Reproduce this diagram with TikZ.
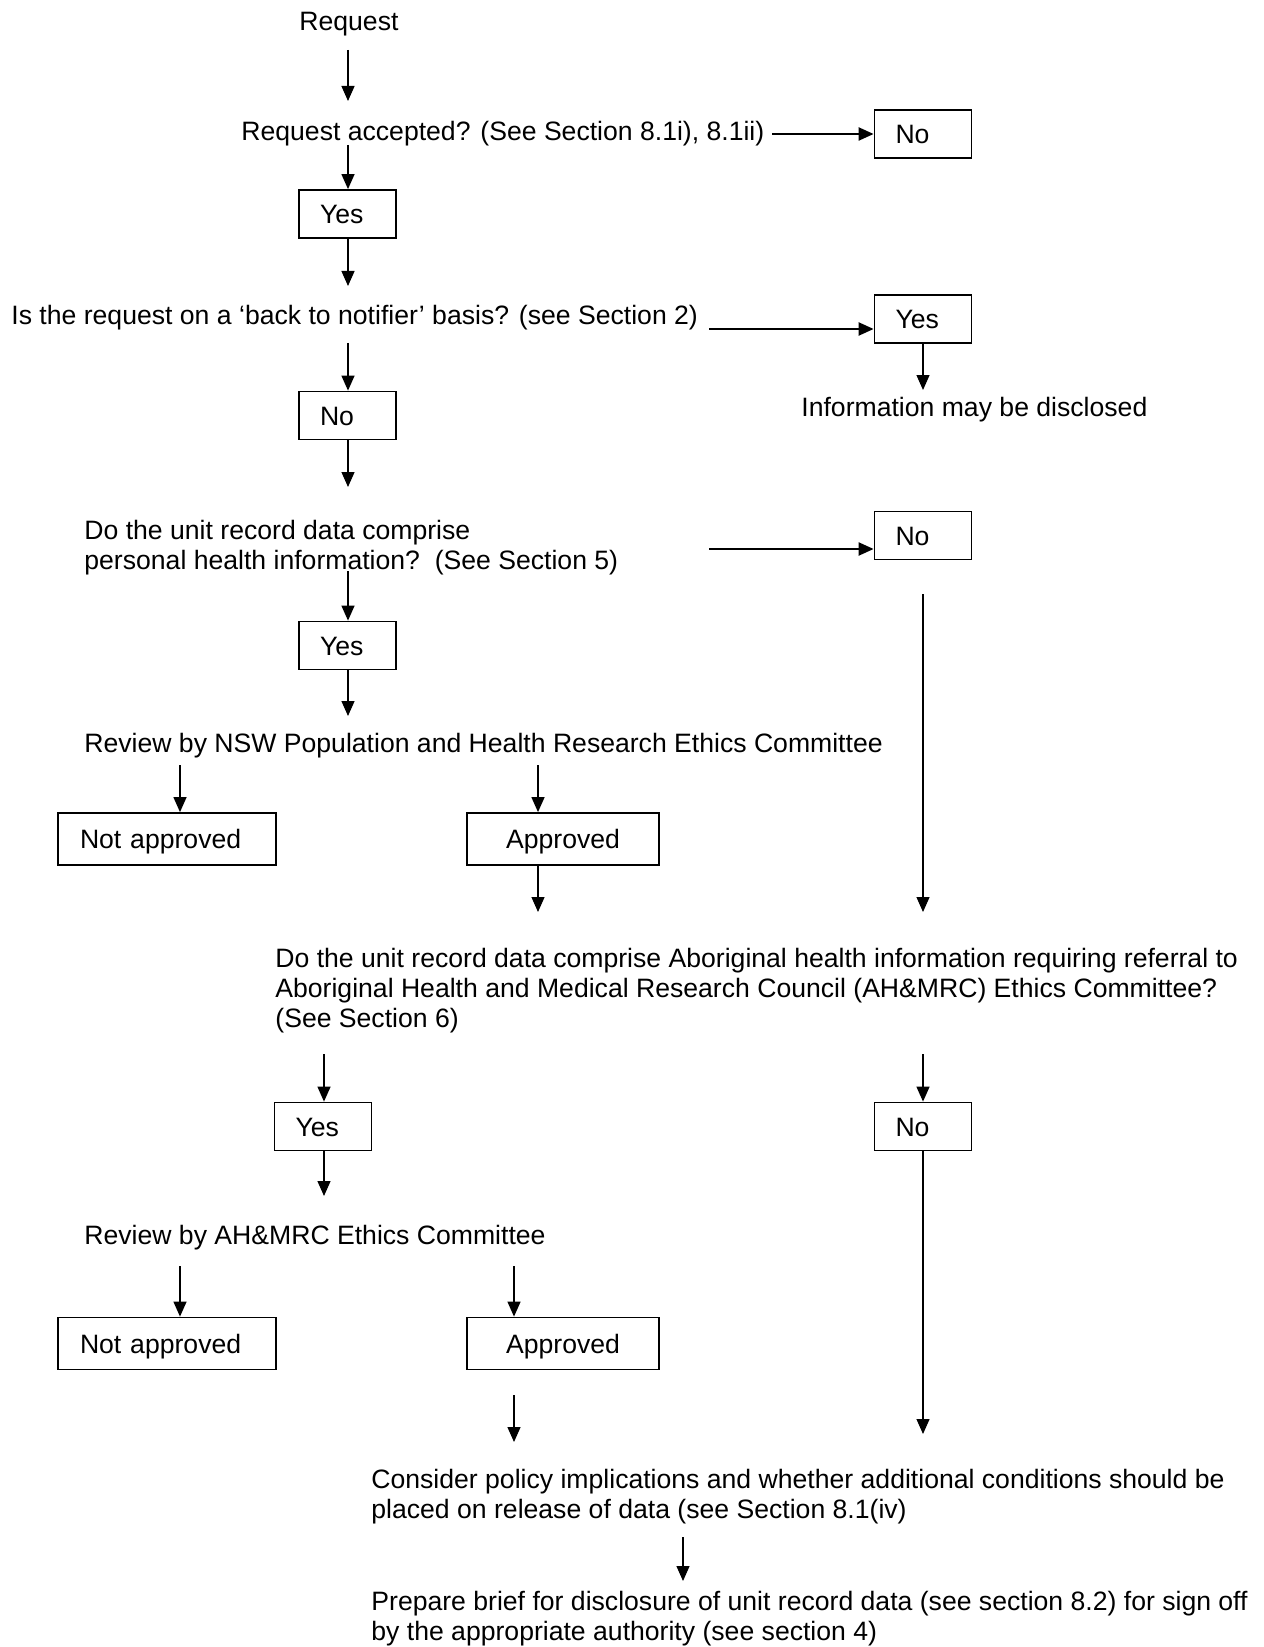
\documentclass[tikz,border=0pt]{standalone}
\usepackage{fontspec}
\setmainfont{Liberation Sans}
\usetikzlibrary{arrows.meta}
\begin{document}
\begin{tikzpicture}[x=0.5pt,y=-0.5pt,
  every node/.style={inner sep=0pt, font=\fontsize{13.3pt}{15pt}\selectfont},
  txt/.style={anchor=base west},
  box/.style={draw, line width=0.9pt, text height=9.6pt, text depth=0pt, inner ysep=0pt},
  sbox/.style={box, minimum width=48.5pt, minimum height=24pt, inner xsep=10.5pt, text width=27.5pt, align=left},
  nbox/.style={box, minimum width=109pt, minimum height=26pt, inner xsep=11pt, text width=87pt, align=left},
  abox/.style={box, minimum width=96pt, minimum height=26pt, inner xsep=11pt, text width=74pt, align=center},
  arr/.style={-{Triangle[length=7.5pt,width=6.5pt]}, line width=0.65pt},
  harr/.style={-{Triangle[length=7.5pt,width=6.5pt]}, line width=1.1pt}]
\useasboundingbox (0,0) rectangle (1263,1647);

% text nodes
\node[txt] (req) at (299,31) {Request};
\node[txt] (acc) at (241,141) {Request accepted? (See Section 8.1i), 8.1ii)};
\node[txt] (notif) at (11,325) {Is the request on a ‘back to notifier’ basis? (see Section 2)};
\node[txt] (info) at (801,416) {Information may be disclosed};
\node[txt] (phi) at (84,539) {\vtop{\hbox{Do the unit record data comprise}\hbox{personal health information?\ \ (See Section 5)}}};
\node[txt] (nsw) at (84,752) {Review by NSW Population and Health Research Ethics Committee};
\node[txt] (abo) at (275,967) {\vtop{\hbox{Do the unit record data comprise Aboriginal health information requiring referral to}\hbox{Aboriginal Health and Medical Research Council (AH\&MRC) Ethics Committee?}\hbox{(See Section 6)}}};
\node[txt] (ahm) at (84,1244) {Review by AH\&MRC Ethics Committee};
\node[txt] (cons) at (371,1488) {\vtop{\hbox{Consider policy implications and whether additional conditions should be}\hbox{placed on release of data (see Section 8.1(iv)}}};
\node[txt] (prep) at (371,1610) {\vtop{\hbox{Prepare brief for disclosure of unit record data (see section 8.2) for sign off}\hbox{by the appropriate authority (see section 4)}}};

% boxes
\node[sbox] (no1) at (923,134) {No};
\node[sbox] (yes1) at (347.5,214) {Yes};
\node[sbox] (yes2) at (923,319) {Yes};
\node[sbox] (no2) at (347.5,415.5) {No};
\node[sbox] (no3) at (923,535.5) {No};
\node[sbox] (yes3) at (347.5,645.5) {Yes};
\node[nbox] (na1) at (167,839) {Not approved};
\node[abox] (ap1) at (563,839) {Approved};
\node[sbox] (yes4) at (323,1126.5) {Yes};
\node[sbox] (no4) at (923,1126.5) {No};
\node[nbox] (na2) at (167,1343.5) {Not approved};
\node[abox] (ap2) at (563,1343.5) {Approved};

% connector end points
\coordinate (ra) at (348,50);   \coordinate (rb) at (348,101);
\coordinate (bs) at (772,134);
\coordinate (cs) at (348,145);
\coordinate (dt) at (348,286);
\coordinate (es) at (709,329);
\coordinate (ft) at (923,390);
\coordinate (gs) at (348,343);
\coordinate (ht) at (348,487);
\coordinate (is) at (709,549);
\coordinate (js) at (348,571);
\coordinate (kt) at (348,716);
\coordinate (ls) at (180,765);
\coordinate (ms) at (538,765);
\coordinate (nt) at (538,912);
\coordinate (os) at (923,594);  \coordinate (ot) at (923,912);
\coordinate (ps) at (324,1054);
\coordinate (qs) at (923,1054);
\coordinate (rt) at (324,1196);
\coordinate (st) at (923,1434);
\coordinate (ts) at (180,1266);
\coordinate (us) at (514,1266);
\coordinate (vs) at (514,1395); \coordinate (vt) at (514,1442);
\coordinate (ws) at (683,1537); \coordinate (wt) at (683,1581);

% connectors
\draw[arr] (ra) -- (rb);
\draw[harr] (bs) -- (bs -| no1.west);
\draw[arr] (cs) -- (cs |- yes1.north);
\draw[arr] (dt |- yes1.south) -- (dt);
\draw[harr] (es) -- (es -| yes2.west);
\draw[arr] (yes2.south) -- (ft);
\draw[arr] (gs) -- (gs |- no2.north);
\draw[arr] (ht |- no2.south) -- (ht);
\draw[harr] (is) -- (is -| no3.west);
\draw[arr] (js) -- (js |- yes3.north);
\draw[arr] (kt |- yes3.south) -- (kt);
\draw[arr] (ls) -- (ls |- na1.north);
\draw[arr] (ms) -- (ms |- ap1.north);
\draw[arr] (ms |- ap1.south) -- (nt);
\draw[arr] (os) -- (ot);
\draw[arr] (ps) -- (ps |- yes4.north);
\draw[arr] (qs) -- (qs |- no4.north);
\draw[arr] (ps |- yes4.south) -- (rt);
\draw[arr] (no4.south) -- (st);
\draw[arr] (ts) -- (ts |- na2.north);
\draw[arr] (us) -- (us |- ap2.north);
\draw[arr] (vs) -- (vt);
\draw[arr] (ws) -- (wt);
\end{tikzpicture}
\end{document}
